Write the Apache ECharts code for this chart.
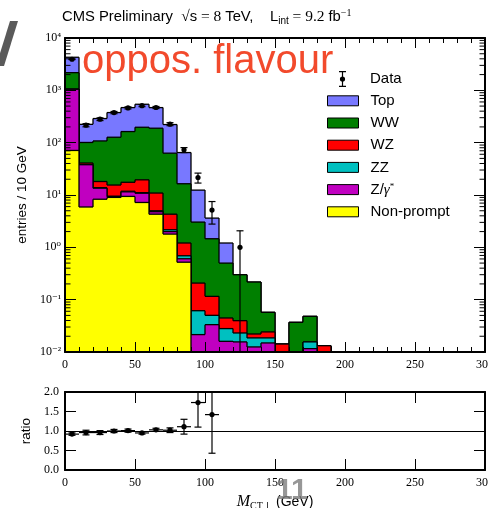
<!DOCTYPE html>
<html>
<head>
<meta charset="utf-8">
<script src="https://cdn.jsdelivr.net/npm/echarts/dist/echarts.min.js"></script>
<style>
  html, body { margin: 0; padding: 0; background: #fff; }
  #chart { width: 488px; height: 508px; }
</style>
</head>
<body>
<div id="chart"></div>
<script>
// M_CT-perp histogram, opposite-flavour selection, 10 GeV bins
const binLow  = [0, 10, 20, 30, 40, 50, 60, 70, 80, 90, 100, 110, 120, 130, 140, 150, 160, 170, 180, 190,
                 200, 210, 220, 230, 240, 250, 260, 270, 280, 290];
const binHigh = [10, 20, 30, 40, 50, 60, 70, 80, 90, 100, 110, 120, 130, 140, 150, 160, 170, 180, 190, 200,
                 210, 220, 230, 240, 250, 260, 270, 280, 290, 300];

// Background predictions per bin (entries / 10 GeV)
const nonPrompt = [71, 5.9, 8.3, 9.0, 9.4, 7.2, 4.3, 1.79, 0.52, 0, 0, 0, 0, 0, 0, 0, 0, 0, 0, 0,
                   0, 0, 0, 0, 0, 0, 0, 0, 0, 0];
const zGamma    = [978, 32, 5.2, 0.3, 2.1, 3.6, 0.5, 0.21, 0.085, 0.0215, 0.0333, 0.016, 0.0156, 0.0125, 0.0149, 0, 0, 0.0116, 0, 0,
                   0, 0, 0, 0, 0, 0, 0, 0, 0, 0];
const zz        = [1, 0.5, 0.3, 0.2, 0.3, 0.3, 0.2, 0.17, 0.085, 0.040, 0.0169, 0.012, 0.0075, 0.0061, 0.0037, 0, 0, 0.004, 0, 0,
                   0, 0, 0, 0, 0, 0, 0, 0, 0, 0];
const wz        = [2, 2.5, 4.3, 6.0, 5.7, 8.4, 5.9, 2.13, 0.52, 0.146, 0.0654, 0.0167, 0.0166, 0.0035, 0.0056, 0.0142, 0, 0, 0.0132, 0,
                   0, 0, 0, 0, 0, 0, 0, 0, 0, 0];
const ww        = [1126, 60, 89.9, 111.5, 145.5, 177.5, 178, 58.7, 15.2, 2.83, 1.344, 0.455, 0.26, 0.195, 0.0331, 0, 0.0369, 0.0324, 0, 0,
                   0, 0, 0, 0, 0, 0, 0, 0, 0, 0];
const topQuark  = [2107, 123, 181, 249, 305, 345, 279, 159, 48.3, 9.36, 2.16, 0.71, 0, 0, 0, 0, 0, 0, 0, 0,
                   0, 0, 0, 0, 0, 0, 0, 0, 0, 0];

// Observed data (bin centre, count, lower / upper error)
const dataX       = [5, 15, 25, 35, 45, 55, 65, 75, 85, 95, 105, 125];
const dataY       = [3930, 216, 281, 376, 462, 510, 470, 226, 73, 21.6, 5.15, 1];
const dataErrLow  = [63, 15, 17, 19, 21, 23, 22, 15, 8.3, 4.7, 2.37, 1];
const dataErrHigh = [63, 15, 17, 19, 21, 23, 22, 15, 7.5, 4.6, 2.35, 1.07];

// Data / prediction ratio
const ratioX       = [5, 15, 25, 35, 45, 55, 65, 75, 85, 95, 105];
const ratioY       = [0.92, 0.96, 0.96, 1.00, 1.01, 0.95, 1.03, 1.02, 1.11, 1.73, 1.42];
const ratioErrLow  = [0.03, 0.06, 0.05, 0.04, 0.04, 0.03, 0.04, 0.06, 0.19, 0.63, 0.99];
const ratioErrHigh = [0.03, 0.06, 0.05, 0.04, 0.04, 0.03, 0.04, 0.06, 0.19, 0.65, 1.00];

// Processes, bottom of the stack first
const processNames  = ['Non-prompt', 'Z/γ*', 'ZZ', 'WZ', 'WW', 'Top'];
const processValues = [nonPrompt, zGamma, zz, wz, ww, topQuark];
const processColors = ['#ffff00', '#c000c0', '#00c0c0', '#ff0000', '#007f00', '#7878ff'];

const Y_MIN = 0.01, Y_MAX = 10000;
const LW = 1.3;
const SERIF = '"Liberation Serif", "DejaVu Serif", serif';
const SANS = '"Liberation Sans", Arial, sans-serif';

// cumulative stack heights
const cumulative = [];
processValues.forEach((vals, k) => {
  cumulative.push(vals.map((v, i) => v + (k > 0 ? cumulative[k - 1][i] : 0)));
});

function renderStep(color) {
  return function (params, api) {
    const lo = api.value(0), hi = api.value(1), v = api.value(2), pv = api.value(3);
    const base = api.coord([lo, Y_MIN])[1];
    const yOf = val => (val > 0 ? api.coord([lo, Math.max(val, Y_MIN)])[1] : base);
    const x0 = api.coord([lo, Y_MIN])[0];
    const x1 = api.coord([hi, Y_MIN])[0];
    const yt = yOf(v), yp = yOf(pv);
    const children = [];
    if (v > 0) {
      children.push({ type: 'rect', shape: { x: x0, y: yt, width: x1 - x0, height: base - yt },
                      style: { fill: color } });
      children.push({ type: 'line', shape: { x1: x0, y1: yt, x2: x1, y2: yt },
                      style: { stroke: '#000', lineWidth: LW } });
    }
    if (Math.abs(yt - yp) > 0.01) {
      children.push({ type: 'line', shape: { x1: x0, y1: yp, x2: x0, y2: yt },
                      style: { stroke: '#000', lineWidth: LW } });
    }
    return { type: 'group', children: children };
  };
}

function renderDataPoint(params, api) {
  const x = api.value(0), y = api.value(1), lo = api.value(2), hi = api.value(3);
  const p = api.coord([x, y]);
  const lowVal = y - lo;
  const yl = lowVal > Y_MIN ? api.coord([x, lowVal])[1] : api.coord([x, Y_MIN])[1];
  const yh = api.coord([x, y + hi])[1];
  const cap = 3.5;
  const st = { stroke: '#000', lineWidth: 1.2 };
  const children = [
    { type: 'line', shape: { x1: p[0], y1: yl, x2: p[0], y2: yh }, style: st },
    { type: 'line', shape: { x1: p[0] - cap, y1: yh, x2: p[0] + cap, y2: yh }, style: st },
    { type: 'circle', shape: { cx: p[0], cy: p[1], r: 2.6 }, style: { fill: '#000' } }
  ];
  if (lowVal > Y_MIN) {
    children.push({ type: 'line', shape: { x1: p[0] - cap, y1: yl, x2: p[0] + cap, y2: yl }, style: st });
  }
  return { type: 'group', children: children };
}

function renderRatioPoint(params, api) {
  const x = api.value(0), y = api.value(1), lo = api.value(2), hi = api.value(3);
  const p = api.coord([x, y]);
  const xl = api.coord([x - 5, y])[0], xr = api.coord([x + 5, y])[0];
  const yl = api.coord([x, y - lo])[1], yh = api.coord([x, y + hi])[1];
  const cap = 3.5;
  const st = { stroke: '#000', lineWidth: 1.2 };
  return {
    type: 'group',
    children: [
      { type: 'line', shape: { x1: xl, y1: p[1], x2: xr, y2: p[1] }, style: st },
      { type: 'line', shape: { x1: p[0], y1: yl, x2: p[0], y2: yh }, style: st },
      { type: 'line', shape: { x1: p[0] - cap, y1: yh, x2: p[0] + cap, y2: yh }, style: st },
      { type: 'line', shape: { x1: p[0] - cap, y1: yl, x2: p[0] + cap, y2: yl }, style: st },
      { type: 'circle', shape: { cx: p[0], cy: p[1], r: 2.6 }, style: { fill: '#000' } }
    ]
  };
}

// minor ticks of the logarithmic axis (2..9 x 10^n), drawn on both sides
const minorLogTicks = [];
for (let n = -2; n < 4; n++) {
  for (let k = 2; k <= 9; k++) minorLogTicks.push([0, k * Math.pow(10, n)]);
}
function renderMinorTick(params, api) {
  const cs = params.coordSys;
  const y = api.coord([0, api.value(1)])[1];
  const len = 5.5;
  const st = { stroke: '#000', lineWidth: 1 };
  return {
    type: 'group',
    children: [
      { type: 'line', shape: { x1: cs.x, y1: y, x2: cs.x + len, y2: y }, style: st },
      { type: 'line', shape: { x1: cs.x + cs.width - len, y1: y, x2: cs.x + cs.width, y2: y }, style: st }
    ]
  };
}

const supDigits = { '0': '⁰', '1': '¹', '2': '²', '3': '³', '4': '⁴', '-': '⁻' };

const stackSeries = [];
for (let k = processNames.length - 1; k >= 0; k--) {
  const cum = cumulative[k];
  stackSeries.push({
    type: 'custom',
    name: processNames[k],
    xAxisIndex: 0,
    yAxisIndex: 0,
    clip: true,
    itemStyle: { color: processColors[k] },
    encode: { x: [0, 1], y: [2, 3] },
    renderItem: renderStep(processColors[k]),
    data: binLow.map((lo, i) => [lo, binHigh[i], cum[i], i > 0 ? cum[i - 1] : 0])
  });
}

const axisCommon = {
  axisLine: { show: true, onZero: false, lineStyle: { color: '#000', width: 2 } },
  splitLine: { show: false },
  z: 10
};

const option = {
  animation: false,
  backgroundColor: '#fff',
  title: {
    left: 62,
    top: 8,
    padding: 0,
    text: '{a|CMS Preliminary  }{m|√}{a|s}{m| = 8 }{a|TeV,    L}{sub|int}{m| = 9.2 }{a|fb}{sup|−1}',
    textStyle: {
      fontWeight: 'normal',
      rich: {
        a: { fontFamily: SANS, fontWeight: 'normal', fontSize: 14.8, color: '#000', lineHeight: 18 },
        m: { fontFamily: SERIF, fontWeight: 'normal', fontSize: 15.5, color: '#000', lineHeight: 18 },
        sub: { fontFamily: SANS, fontWeight: 'normal', fontSize: 10, color: '#000', verticalAlign: 'bottom', lineHeight: 12 },
        sup: { fontFamily: SERIF, fontWeight: 'normal', fontSize: 10, color: '#000', verticalAlign: 'top', lineHeight: 10 }
      }
    }
  },
  legend: [
    {
      left: 327,
      top: 71,
      padding: 0,
      orient: 'vertical',
      itemWidth: 31,
      itemHeight: 16,
      data: [{
        name: 'Data',
        icon: 'path://M0,0h0.01v0.01h-0.01zM30.99,15.99h0.01v0.01h-0.01zM12,0h7v1.2h-7zM14.9,1.2h1.2v13.6h-1.2zM12,14.8h7v1.2h-7zM18.1,8a2.6,2.6 0 1 1 -5.2,0a2.6,2.6 0 1 1 5.2,0z'
      }],
      itemStyle: { color: '#000', borderWidth: 0 },
      formatter: name => '{sp|}' + name,
      textStyle: {
        fontFamily: SANS, fontSize: 15, color: '#000',
        rich: { sp: { width: 7 } }
      }
    },
    {
      left: 327,
      top: 93.3,
      padding: 0,
      orient: 'vertical',
      itemWidth: 31,
      itemHeight: 10,
      itemGap: 7.2,
      icon: 'rect',
      itemStyle: { borderColor: '#000', borderWidth: 1 },
      data: ['Top', 'WW', 'WZ', 'ZZ', 'Z/γ*', 'Non-prompt'],
      formatter: function (name) {
        if (name === 'Z/γ*') return '{sp|}Z/{g|γ}{s|*}';
        return '{sp|}' + name;
      },
      textStyle: {
        fontFamily: SANS, fontSize: 15, color: '#000', lineHeight: 14,
        rich: {
          sp: { width: 7 },
          g: { fontFamily: SERIF, fontStyle: 'italic', fontSize: 15, color: '#000' },
          s: { fontFamily: SERIF, fontSize: 9, color: '#000', verticalAlign: 'top', lineHeight: 9 }
        }
      }
    }
  ],
  grid: [
    { left: 65, top: 38, width: 420, height: 314, outerBoundsMode: 'none', containLabel: false },
    { left: 65, top: 392, width: 420, height: 78, outerBoundsMode: 'none', containLabel: false }
  ],
  xAxis: [
    Object.assign({}, axisCommon, {
      gridIndex: 0, type: 'value', min: 0, max: 300, interval: 50, position: 'bottom',
      axisTick: { inside: true, length: 10, lineStyle: { color: '#000', width: 1 } },
      minorTick: { show: true, splitNumber: 5, length: 5, lineStyle: { color: '#000', width: 1 } },
      axisLabel: { margin: 7, fontFamily: SERIF, fontSize: 12, color: '#000', showMaxLabel: true }
    }),
    Object.assign({}, axisCommon, {
      gridIndex: 0, type: 'value', min: 0, max: 300, interval: 50, position: 'top',
      axisTick: { inside: true, length: 10, lineStyle: { color: '#000', width: 1 } },
      minorTick: { show: true, splitNumber: 5, length: 5, lineStyle: { color: '#000', width: 1 } },
      axisLabel: { show: false }
    }),
    Object.assign({}, axisCommon, {
      gridIndex: 1, type: 'value', min: 0, max: 300, interval: 50, position: 'bottom',
      axisTick: { inside: true, length: 11, lineStyle: { color: '#000', width: 1 } },
      axisLabel: { margin: 7, fontFamily: SERIF, fontSize: 12, color: '#000', showMaxLabel: true },
      name: '{m|M}{sub|CT⊥}{g| (GeV)}',
      nameLocation: 'middle',
      nameGap: 23,
      nameTextStyle: {
        rich: {
          m: { fontFamily: SERIF, fontStyle: 'italic', fontSize: 16, color: '#000', lineHeight: 18 },
          sub: { fontFamily: SERIF, fontSize: 10, color: '#000', verticalAlign: 'bottom', lineHeight: 12 },
          g: { fontFamily: SANS, fontSize: 14, color: '#000', lineHeight: 18 }
        }
      }
    }),
    Object.assign({}, axisCommon, {
      gridIndex: 1, type: 'value', min: 0, max: 300, interval: 50, position: 'top',
      axisTick: { inside: true, length: 11, lineStyle: { color: '#000', width: 1 } },
      axisLabel: { show: false }
    })
  ],
  yAxis: [
    Object.assign({}, axisCommon, {
      gridIndex: 0, type: 'log', min: Y_MIN, max: Y_MAX, logBase: 10, position: 'left',
      axisTick: { inside: true, length: 11, lineStyle: { color: '#000', width: 1 } },
      axisLabel: {
        margin: 4, showMinLabel: true, showMaxLabel: true,
        formatter: function (v) {
          const e = String(Math.round(Math.log10(v)));
          return '{b|10}{e|' + e.split('').map(c => supDigits[c] || c).join('') + '}';
        },
        rich: {
          b: { fontFamily: SERIF, fontSize: 12, color: '#000', lineHeight: 12, padding: [2, 0, 2, 0] },
          e: { fontFamily: SERIF, fontSize: 11, color: '#000', verticalAlign: 'top', lineHeight: 10 }
        }
      },
      name: 'entries / 10 GeV',
      nameLocation: 'middle',
      nameGap: 34,
      nameTextStyle: { fontFamily: SANS, fontSize: 13.5, color: '#000' }
    }),
    Object.assign({}, axisCommon, {
      gridIndex: 0, type: 'log', min: Y_MIN, max: Y_MAX, logBase: 10, position: 'right',
      axisTick: { inside: true, length: 11, lineStyle: { color: '#000', width: 1 } },
      axisLabel: { show: false }
    }),
    Object.assign({}, axisCommon, {
      gridIndex: 1, type: 'value', min: 0, max: 2, interval: 0.5, position: 'left',
      axisTick: { inside: true, length: 11, lineStyle: { color: '#000', width: 1 } },
      axisLabel: { margin: 6, fontFamily: SERIF, fontSize: 12, color: '#000',
                   formatter: v => v.toFixed(1), showMinLabel: true, showMaxLabel: true },
      name: 'ratio',
      nameLocation: 'middle',
      nameGap: 28,
      nameTextStyle: { fontFamily: SANS, fontSize: 13.5, color: '#000' }
    }),
    Object.assign({}, axisCommon, {
      gridIndex: 1, type: 'value', min: 0, max: 2, interval: 0.5, position: 'right',
      axisTick: { inside: true, length: 11, lineStyle: { color: '#000', width: 1 } },
      axisLabel: { show: false }
    })
  ],
  graphic: [
    {
      type: 'polygon', z: 20,
      shape: { points: [[10, 21], [18, 21], [4, 66], [-4, 66]] },
      style: { fill: '#5a5a5a' }
    },
    {
      type: 'text', z: 20, left: 82, top: 42,
      style: { text: 'oppos. flavour', fill: '#f24a2c', font: '40px "Liberation Sans", Arial, sans-serif' }
    },
    {
      type: 'text', z: 20, left: 276, top: 476,
      style: { text: '11', fill: 'rgba(125,125,125,0.8)', font: 'bold 30px "Liberation Sans", Arial, sans-serif' }
    }
  ],
  series: stackSeries.concat([
    {
      type: 'custom',
      name: 'Data',
      xAxisIndex: 0,
      yAxisIndex: 0,
      clip: true,
      z: 4,
      itemStyle: { color: '#000' },
      encode: { x: 0, y: 1 },
      renderItem: renderDataPoint,
      data: dataX.map((x, i) => [x, dataY[i], dataErrLow[i], dataErrHigh[i]])
    },
    {
      type: 'custom',
      name: 'minorTicks',
      xAxisIndex: 0,
      yAxisIndex: 0,
      z: 11,
      silent: true,
      encode: { x: 0, y: 1 },
      renderItem: renderMinorTick,
      data: minorLogTicks
    },
    {
      type: 'custom',
      name: 'ratio',
      xAxisIndex: 2,
      yAxisIndex: 2,
      clip: true,
      z: 4,
      encode: { x: 0, y: 1 },
      renderItem: renderRatioPoint,
      data: ratioX.map((x, i) => [x, ratioY[i], ratioErrLow[i], ratioErrHigh[i]]),
      markLine: {
        silent: true,
        symbol: 'none',
        label: { show: false },
        lineStyle: { color: '#000', width: 1.2, type: 'solid' },
        data: [{ yAxis: 1 }]
      }
    }
  ])
};

const chart = echarts.init(document.getElementById('chart'), null, { renderer: 'canvas' });
chart.setOption(option);
</script>
</body>
</html>
